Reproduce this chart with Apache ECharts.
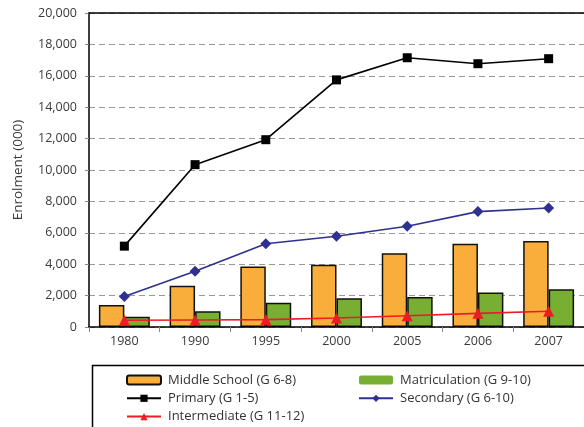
<!DOCTYPE html>
<html><head><meta charset="utf-8">
<script src="https://cdn.jsdelivr.net/npm/echarts@6/dist/echarts.min.js"></script>
<style>html,body{margin:0;padding:0;background:#fff}#c{width:584px;height:427px}</style>
</head><body><div id="c"></div>
<script>
var years = ['1980','1990','1995','2000','2005','2006','2007'];
var middleSchool = [1400, 2630, 3860, 3960, 4690, 5300, 5470];
var matriculation = [660, 1000, 1550, 1830, 1910, 2190, 2400];
var primary = [5150, 10340, 11930, 15740, 17150, 16770, 17090];
var secondary = [1950, 3550, 5300, 5780, 6420, 7350, 7580];
var intermediate = [430, 450, 470, 570, 720, 870, 1000];
var yTicks = {min: 0, max: 20000, interval: 2000};

var FONT = '"Open Sans", sans-serif';
var legendText = {color: '#333', fontFamily: FONT, fontSize: 13, lineHeight: 14, padding: [0, 0, 0, 2]};
var chart = echarts.init(document.getElementById('c'), null, {renderer: 'canvas'});
chart.setOption({
  animation: false,
  backgroundColor: '#fff',
  grid: {left: 89, top: 13, right: -5, bottom: 100, containLabel: false},
  xAxis: [{
    type: 'category', data: years, boundaryGap: true, z: 3,
    axisLine: {show: true, lineStyle: {color: '#000', width: 1.5}},
    axisTick: {show: true, length: 5, lineStyle: {color: '#888'}},
    axisLabel: {color: '#3a3a3a', fontFamily: FONT, fontSize: 12.5, margin: 8}
  }, {
    type: 'category', data: years, position: 'top', z: 3,
    axisLine: {show: true, lineStyle: {color: '#000', width: 1.5}},
    axisTick: {show: false}, axisLabel: {show: false}
  }],
  yAxis: {
    type: 'value', min: yTicks.min, max: yTicks.max, interval: yTicks.interval,
    name: 'Enrolment (000)', nameLocation: 'middle', nameGap: 64,
    nameTextStyle: {color: '#3a3a3a', fontFamily: FONT, fontSize: 13.5},
    axisLine: {show: true, lineStyle: {color: '#000', width: 1.5}},
    axisTick: {show: true, length: 4, lineStyle: {color: '#888'}},
    axisLabel: {color: '#3a3a3a', fontFamily: FONT, fontSize: 12.5, margin: 12,
      formatter: function (v) { return v.toLocaleString('en-US'); }},
    splitLine: {show: true, lineStyle: {color: '#999', type: [6, 4], width: 1}}
  },
  legend: [{
    orient: 'vertical', left: 121, top: 368, height: 80, itemWidth: 34, itemHeight: 9, itemGap: 4.3,
    textStyle: legendText,
    data: ['Middle School (G 6-8)', 'Primary (G 1-5)', 'Intermediate (G 11-12)']
  }, {
    orient: 'vertical', left: 353, top: 368, height: 80, itemWidth: 34, itemHeight: 9, itemGap: 4.3,
    textStyle: legendText,
    data: [{name: 'Matriculation (G 9-10)', itemStyle: {borderWidth: 0}}, 'Secondary (G 6-10)']
  }],
  graphic: [{
    type: 'rect', left: 90, top: 363, z: 10,
    shape: {width: 520, height: 80},
    style: {fill: 'none', stroke: '#000', lineWidth: 1.5}
  }],
  series: [{
    name: 'Middle School (G 6-8)', type: 'bar', data: middleSchool,
    barGap: '0%', barCategoryGap: '28%',
    itemStyle: {color: '#F9AE3B', borderColor: '#111', borderWidth: 1.5}
  }, {
    name: 'Matriculation (G 9-10)', type: 'bar', data: matriculation,
    barGap: '0%', barCategoryGap: '28%',
    itemStyle: {color: '#78AE31', borderColor: '#111', borderWidth: 1.5}
  }, {
    name: 'Primary (G 1-5)', type: 'line', data: primary,
    symbol: 'rect', symbolSize: 9,
    lineStyle: {color: '#000', width: 1.6}, itemStyle: {color: '#000'}
  }, {
    name: 'Secondary (G 6-10)', type: 'line', data: secondary,
    symbol: 'diamond', symbolSize: 11,
    lineStyle: {color: '#2E3192', width: 1.6}, itemStyle: {color: '#2E3192'}
  }, {
    name: 'Intermediate (G 11-12)', type: 'line', data: intermediate,
    symbol: 'triangle', symbolSize: 11,
    lineStyle: {color: '#ED1C24', width: 1.6}, itemStyle: {color: '#ED1C24'}
  }]
});
</script></body></html>
